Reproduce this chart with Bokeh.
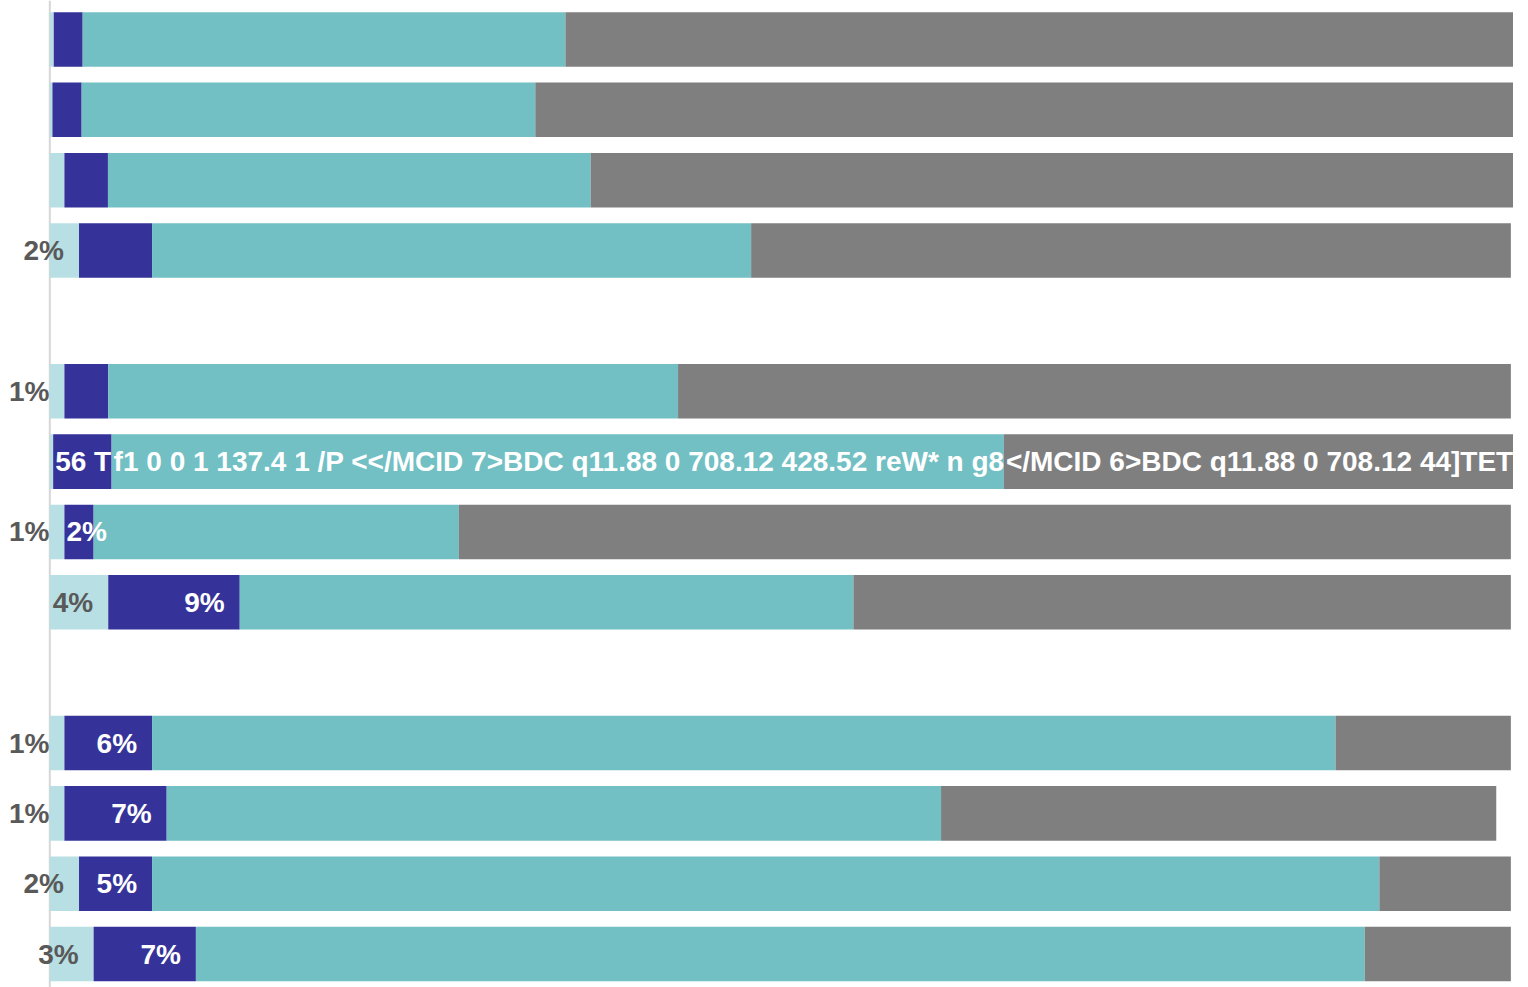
from bokeh.plotting import figure
from bokeh.models import Range1d, Span, ColumnDataSource
from bokeh.core.properties import value
from bokeh.embed import file_html
from bokeh.resources import INLINE

# ---- data (percent of respondents per row) ----
rows = ["Row 1", "Row 2", "Row 3", "Row 4",
        "Row 5", "Row 6", "Row 7", "Row 8",
        "Row 9", "Row 10", "Row 11", "Row 12"]
groups = [0, 0, 0, 0, 1, 1, 1, 1, 2, 2, 2, 2]

light = [0.27, 0.18, 1.0, 2, 1, 0.23, 1, 4, 1, 1, 2, 3]
dark = [1.98, 2.0, 2.98, 5, 3, 4, 2, 9, 6, 7, 5, 7]
teal = [33.04, 31.05, 33.04, 41, 39, 61.07, 25, 42, 81, 53, 84, 80]
gray = [65, 67, 63.2, 52, 57, 35, 72, 45, 12, 38, 9, 10]

light_labels = ["", "", "", "2%", "1%", "", "1%", "4%", "1%", "1%", "2%", "3%"]
dark_labels = ["", "", "", "", "", "56 T", "2%", "9%", "6%", "7%", "5%", "7%"]
teal_labels = ["", "", "", "", "",
               "f1 0 0 1 137.4 1 /P <</MCID 7>BDC q11.88 0 708.12 428.52 reW* n g8",
               "", "", "", "", "", ""]
gray_labels = ["", "", "", "", "",
               "</MCID 6>BDC q11.88 0 708.12 44]TETC",
               "", "", "", "", "", ""]

series = [
    ("light", light, light_labels, "#b8dfe3", "#595959"),
    ("dark", dark, dark_labels, "#35339a", "#ffffff"),
    ("teal", teal, teal_labels, "#72bfc4", "#ffffff"),
    ("gray", gray, gray_labels, "#7f7f7f", "#ffffff"),
]

W, H = 1513, 987
x_range = Range1d(-3.374, 100.18)
y_range = Range1d(13.475, -0.5544)
px_per_unit = W / (x_range.end - x_range.start)

p = figure(width=W, height=H, x_range=x_range, y_range=y_range,
           output_backend="svg", toolbar_location=None,
           x_axis_location=None, y_axis_location=None,
           min_border=0, min_border_left=0, min_border_right=0,
           min_border_top=0, min_border_bottom=0)
p.outline_line_color = None
p.grid.visible = False
p.background_fill_color = "white"
p.border_fill_color = "white"

p.add_layout(Span(location=0, dimension="height", line_color="#d6d6d6",
                  line_width=2, level="underlay"))

ypos = [i + g for i, g in enumerate(groups)]

left_lab = dict(x=[], y=[], text=[], xo=[], color=[])
right_lab = dict(x=[], y=[], text=[], xo=[], color=[])

cum = [0.0] * len(rows)
for name, vals, labels, fill, tcol in series:
    lefts = cum[:]
    rights = [c + v for c, v in zip(cum, vals)]
    src = ColumnDataSource(dict(y=ypos, left=lefts, right=rights))
    p.hbar(y="y", left="left", right="right", height=0.775, source=src,
           fill_color=fill, line_color=None)
    for i, lab in enumerate(labels):
        if not lab:
            continue
        seg_px = vals[i] * px_per_unit
        est_w = len(lab) * 15
        if name == "light":
            d = right_lab
            d["x"].append(rights[i]); d["xo"].append(-15)
        elif est_w + 30 > seg_px:
            d = left_lab
            d["x"].append(lefts[i]); d["xo"].append(2)
        else:
            d = right_lab
            d["x"].append(rights[i]); d["xo"].append(-15)
        d["y"].append(ypos[i]); d["text"].append(lab); d["color"].append(tcol)
    cum = rights

for d, align in ((left_lab, "left"), (right_lab, "right")):
    p.text(x="x", y="y", text="text", x_offset="xo", text_color="color",
           source=ColumnDataSource(d), text_align=align,
           text_baseline="middle", text_font=value("Liberation Sans"),
           text_font_style="bold", text_font_size="28px")

open("out.html", "w").write(file_html(p, INLINE))
